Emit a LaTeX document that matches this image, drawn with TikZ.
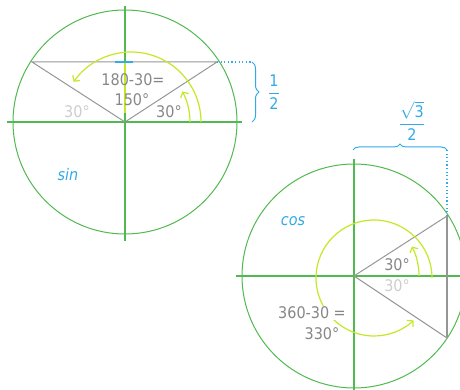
\documentclass[tikz,border=0pt]{standalone}
\usepackage{amsmath}
\usepackage{fontspec}
\setmainfont{DejaVu Sans Condensed}
\usetikzlibrary{arrows.meta, decorations.pathreplacing}
\definecolor{ringgreen}{RGB}{80,185,80}
\definecolor{lime}{RGB}{195,232,40}
\definecolor{edgegray}{RGB}{150,150,150}
\definecolor{textgray}{RGB}{135,135,135}
\definecolor{palegray}{RGB}{205,205,205}
\definecolor{sky}{RGB}{50,170,230}

\begin{document}
\begin{tikzpicture}[x=1pt, y=1pt,
      ring/.style={draw=ringgreen, line width=1pt},
      axis/.style={draw=ringgreen, line width=1.5pt},
      tri/.style={draw=edgegray, line width=1pt},
      turn/.style={draw=lime, line width=1.2pt, ->},
      lbl/.style={text=textgray, font=\fontsize{16}{18}\selectfont, inner sep=1pt},
      pale/.style={lbl, text=palegray},
      note/.style={text=sky, font=\fontsize{16}{18}\selectfont},
      guide/.style={draw=sky, line width=1.2pt, dash pattern=on 1.2pt off 2.4pt},
      brace/.style={draw=sky, line width=1pt, decorate},
      >={Straight Barb[length=4pt, width=9pt]}]
    \useasboundingbox (0,0) rectangle (460,390);
    \clip (0,0) rectangle (460,390);
    % sine circle
    \coordinate (O1) at (125,268);
    \coordinate (P1) at (32,328);
    \coordinate (P2) at (217,328);
    \draw[ring] (O1) circle[radius=112];
    \draw[axis] (7,268) -- (242,268);
    \draw[axis] (125,384) -- (125,149);
    \draw[draw=lime, line width=1.5pt] (125,327) -- (125,277);
    \draw[tri] (O1) -- (P1) -- (P2) -- cycle;
    \draw[draw=sky, line width=2pt] (115,328) -- (133,328);
    \draw[turn] ([xshift=65pt]O1) arc[start angle=0, end angle=28, radius=65];
    \draw[turn] (201,268) arc[start angle=0, end angle=145, radius=70];
    \node[lbl] (sum1) at (133,310) {180-30=};
    \node[lbl] (res1) at (132,290) {150°};
    \node[lbl] (ang1) at (169,278) {30°};
    \node[pale] (mir1) at (77,278) {30°};
    \node[note, font=\fontsize{16}{18}\selectfont\itshape] (sin) at (68,215) {sin};
    \coordinate (b1top) at (252,328);
    \coordinate (b1bot) at (252,268);
    \draw[guide] (P2) -- (b1top);
    \draw[brace, decoration={brace, amplitude=7pt}] (b1top) -- (b1bot);
    \node[note] (half) at (274,298) {$\dfrac{\text{1}}{\text{2}}$};
    % cosine circle
    \coordinate (O2) at (354,114);
    \coordinate (Q1) at (447,174);
    \coordinate (Q2) at (447,52);
    \draw[ring] (O2) circle[radius=112];
    \draw[axis] (236,114) -- (460,114);
    \draw[axis] (354,231) -- (354,0);
    \draw[tri] (Q1) -- (O2) -- (Q2);
    \draw[tri, line width=2pt] (Q1) -- (Q2);
    \draw[turn] ([xshift=65pt]O2) arc[start angle=0, end angle=27, radius=65];
    \draw[turn] (432,112) arc[start angle=0, end angle=313, radius=58];
    \node[lbl, fill=white] (sum2) at (312,77) {360-30 =};
    \node[lbl, fill=white] (res2) at (322,56) {330°};
    \node[lbl] (ang2) at (397,125) {30°};
    \node[pale] (mir2) at (397,104) {30°};
    \node[note, font=\fontsize{16}{18}\selectfont\itshape] (cos) at (293,169) {cos};
    \coordinate (b2left) at (353,240);
    \coordinate (b2right) at (447,240);
    \draw[guide] (Q1) -- (b2right);
    \draw[brace, decoration={brace, amplitude=6pt}] (b2left) -- (b2right);
    \node[note] (root) at (412,269) {$\dfrac{\sqrt{\text{3}}}{\text{2}}$};
\end{tikzpicture}
\end{document}
